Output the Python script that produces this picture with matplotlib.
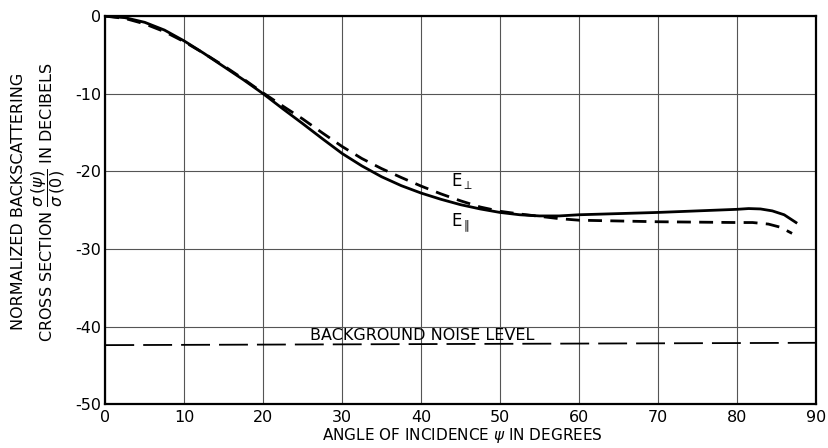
import matplotlib
matplotlib.use("Agg")
import matplotlib.pyplot as plt

plt.rcParams['axes.unicode_minus'] = False
plt.rcParams['font.family'] = ['DejaVu Sans']

# E parallel (solid)
x_par = [0, 2.5, 5, 7.5, 10, 12.5, 15, 17.5, 20, 22.5, 25, 27.5, 30, 32.5, 35, 37.5,
         40, 42.5, 45, 47.5, 50, 52.5, 55, 57.5, 60, 65, 70, 75, 80, 81.5, 83, 84.5, 86, 87.5]
y_par = [0, -0.2, -0.8, -1.8, -3.2, -4.8, -6.5, -8.2, -10.0, -11.95, -13.85, -15.8, -17.7,
         -19.3, -20.7, -21.85, -22.8, -23.6, -24.3, -24.85, -25.3, -25.6, -25.75, -25.75,
         -25.6, -25.45, -25.3, -25.1, -24.9, -24.8, -24.85, -25.1, -25.6, -26.6]

# E perpendicular (dashed)
x_perp = [0, 2.5, 5, 7.5, 10, 12.5, 15, 17.5, 20, 22.5, 25, 27.5, 30, 32.5, 35, 37.5,
          40, 42.5, 45, 47.5, 50, 52.5, 55, 57.5, 60, 65, 70, 75, 80, 82, 84, 85.5, 87]
y_perp = [0, -0.3, -1.0, -2.0, -3.3, -4.8, -6.4, -8.1, -9.9, -11.6, -13.25, -15.05, -16.8,
          -18.35, -19.65, -20.8, -21.9, -22.9, -23.8, -24.6, -25.15, -25.5, -25.8, -26.1,
          -26.3, -26.4, -26.5, -26.55, -26.6, -26.6, -26.8, -27.2, -28.0]

# Background noise level
x_noise = [0, 90]
y_noise = [-42.4, -42.1]

x_ticks = [0, 10, 20, 30, 40, 50, 60, 70, 80, 90]
y_ticks = [0, -10, -20, -30, -40, -50]

fig = plt.figure(figsize=(8.29, 4.48), dpi=100)
ax = fig.add_axes([0.127, 0.098, 0.857, 0.866])

ax.plot(x_par, y_par, color='black', lw=2.0, solid_joinstyle='round')
ax.plot(x_perp, y_perp, color='black', lw=2.0, dashes=(5, 3))
ax.plot(x_noise, y_noise, color='black', lw=1.3, dashes=(16, 5))

ax.set_xlim(0, 90)
ax.set_ylim(-50, 0)
ax.set_xticks(x_ticks)
ax.set_yticks(y_ticks)
ax.grid(True, color='#555555', lw=0.8)
ax.tick_params(length=0, labelsize=11.5, pad=4)
ax.tick_params(axis='y', pad=3)
for s in ax.spines.values():
    s.set_linewidth(1.6)

ax.text(43.8, -21.3, r'E$_{\perp}$', fontsize=12, ha='left', va='center')
ax.text(43.8, -26.6, r'E$_{\parallel}$', fontsize=12, ha='left', va='center')
ax.text(40.2, -41.2, 'BACKGROUND NOISE LEVEL', fontsize=11.5, ha='center', va='center')

fig.text(0.558, 0.006, r'ANGLE OF INCIDENCE $\psi$ IN DEGREES', fontsize=11,
         ha='center', va='bottom')

fig.text(0.022, 0.55, 'NORMALIZED BACKSCATTERING', rotation=90, fontsize=11.5,
         ha='center', va='center')
fig.text(0.058, 0.55, r'CROSS SECTION $\dfrac{\sigma\,(\psi)}{\sigma\,(0)}$ IN DECIBELS',
         rotation=90, fontsize=11.5, ha='center', va='center')

fig.savefig('out.png', dpi=100)
